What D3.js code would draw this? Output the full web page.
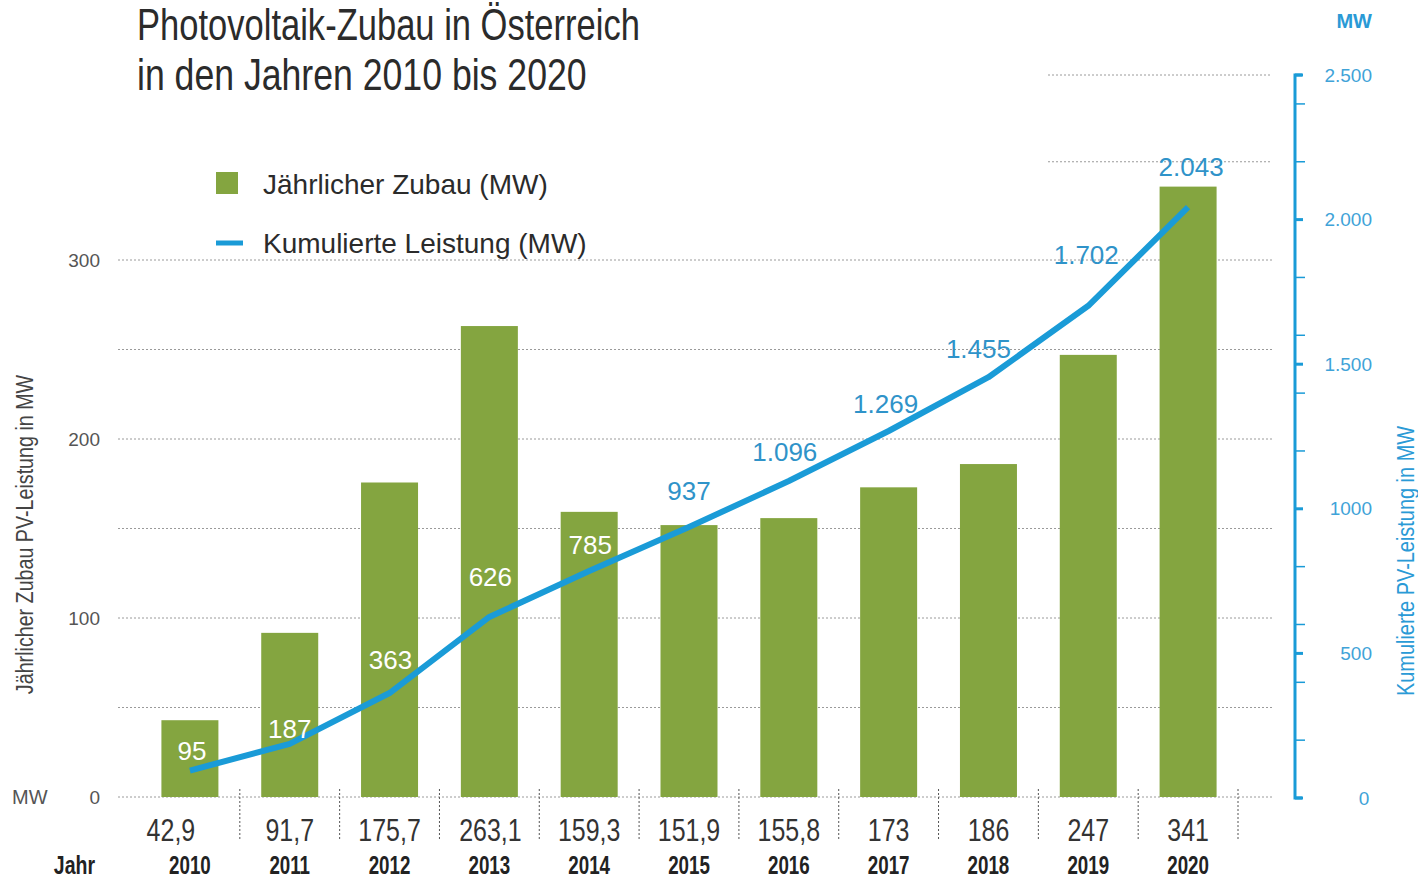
<!DOCTYPE html>
<html>
<head>
<meta charset="utf-8">
<script src="https://cdn.jsdelivr.net/npm/d3@7"></script>
<style>
  body { margin: 0; background: #fff; }
  svg { display: block; }
  text { font-family: "Liberation Sans", Arial, Helvetica, sans-serif; }
</style>
</head>
<body>
<div id="chart"></div>
<script>
// Data
const years = ['2010', '2011', '2012', '2013', '2014', '2015', '2016', '2017', '2018', '2019', '2020'];
const annualAdded = [42.9, 91.7, 175.7, 263.1, 159.3, 151.9, 155.8, 173, 186, 247, 341];
const annualLabels = ['42,9', '91,7', '175,7', '263,1', '159,3', '151,9', '155,8', '173', '186', '247', '341'];
const cumulative = [95, 187, 363, 626, 785, 937, 1096, 1269, 1455, 1702, 2043];
const cumulativeLabels = ['95', '187', '363', '626', '785', '937', '1.096', '1.269', '1.455', '1.702', '2.043'];
const leftTicks = [0, 100, 200, 300];
const leftGrid = [0, 50, 100, 150, 200, 250, 300];
const rightTicks = [0, 500, 1000, 1500, 2000, 2500];
const rightTickLabels = ['0', '500', '1000', '1.500', '2.000', '2.500'];
const rightMinor = [200, 400, 600, 800, 1200, 1400, 1600, 1800, 2200, 2400];
const rightGrid = [2200, 2500];

const width = 1418, height = 879;
const green = '#84a540';
const blue = '#1a9bd7';
const labelBlue = '#2f93c9';

// label nudges (px) so labels sit where the original places them
const labelNudge = [[2, -20], [0, -15], [1, -33], [1, -40], [1, -26], [0, -36], [-4, -29], [-3, -27], [-10, -28], [-2, -51], [3, -40]];
const valueNudge = [-19, 0, 0, 1, 0, 0, 0, 0, 0, 0, 0];

const svg = d3.select('#chart').append('svg')
    .attr('width', width)
    .attr('height', height);

// condensed look: squeeze regular text horizontally
function narrow(sel, x, y, txt, size, opts = {}) {
    const sx = opts.sx || 0.78;
    const rot = opts.rotate ? ' rotate(-90)' : '';
    return sel.append('text')
        .attr('transform', `translate(${x},${y})${rot} scale(${sx},1)`)
        .attr('text-anchor', opts.anchor || 'start')
        .attr('font-size', size)
        .attr('font-weight', opts.bold ? 'bold' : 'normal')
        .attr('fill', opts.fill || '#333')
        .text(txt);
}

// Scales
const x = d3.scaleBand()
    .domain(years)
    .range([140, 1238])
    .paddingInner(0.429)
    .paddingOuter(0.2145);

const yLeft = d3.scaleLinear().domain([0, 300]).range([797, 260]);
const yRight = d3.scaleLinear().domain([0, 2500]).range([798, 75]);
const cx = d => x(d) + x.bandwidth() / 2;

// Title
narrow(svg, 137, 40, 'Photovoltaik-Zubau in Österreich', 44, { sx: 0.785, fill: '#2b2b2b' });
narrow(svg, 137, 90, 'in den Jahren 2010 bis 2020', 44, { sx: 0.81, fill: '#2b2b2b' });

// Gridlines
svg.append('g')
    .selectAll('line')
    .data(leftGrid)
    .join('line')
    .attr('x1', 118)
    .attr('x2', 1273)
    .attr('y1', d => yLeft(d))
    .attr('y2', d => yLeft(d))
    .attr('stroke', '#9a9a9a')
    .attr('stroke-width', 1)
    .attr('stroke-dasharray', '2,2');

svg.append('g')
    .selectAll('line')
    .data(rightGrid)
    .join('line')
    .attr('x1', 1048)
    .attr('x2', 1270)
    .attr('y1', d => yRight(d))
    .attr('y2', d => yRight(d))
    .attr('stroke', '#9a9a9a')
    .attr('stroke-width', 1)
    .attr('stroke-dasharray', '2,2');

// Bars
svg.append('g')
    .selectAll('rect')
    .data(annualAdded)
    .join('rect')
    .attr('x', (d, i) => x(years[i]))
    .attr('y', d => yLeft(d))
    .attr('width', x.bandwidth())
    .attr('height', d => yLeft(0) - yLeft(d))
    .attr('fill', green);

// Cumulative line
const line = d3.line()
    .x((d, i) => cx(years[i]))
    .y(d => yRight(d));

svg.append('path')
    .datum(cumulative)
    .attr('d', line)
    .attr('fill', 'none')
    .attr('stroke', blue)
    .attr('stroke-width', 6)
    .attr('stroke-linejoin', 'round');

// Cumulative labels (white inside bars, blue above)
svg.append('g')
    .selectAll('text')
    .data(cumulative)
    .join('text')
    .attr('x', (d, i) => cx(years[i]) + labelNudge[i][0])
    .attr('y', (d, i) => yRight(d) + labelNudge[i][1])
    .attr('dy', '0.35em')
    .attr('text-anchor', 'middle')
    .attr('font-size', 26)
    .attr('fill', (d, i) => i < 5 ? '#ffffff' : labelBlue)
    .text((d, i) => cumulativeLabels[i]);

// Vertical separators under the axis
svg.append('g')
    .selectAll('line')
    .data(years)
    .join('line')
    .attr('x1', d => x(d) + x.step() * (1 - x.paddingInner() / 2))
    .attr('x2', d => x(d) + x.step() * (1 - x.paddingInner() / 2))
    .attr('y1', 789)
    .attr('y2', 841)
    .attr('stroke', '#555')
    .attr('stroke-width', 1)
    .attr('stroke-dasharray', '2,2');

// Annual values and years under the bars
const bottom = svg.append('g');
years.forEach((yr, i) => {
    narrow(bottom, cx(yr) + valueNudge[i], 841, annualLabels[i], 32, { anchor: 'middle', fill: '#333' });
    narrow(bottom, cx(yr), 874, yr, 25, { anchor: 'middle', bold: true, sx: 0.75, fill: '#222' });
});
narrow(svg, 95, 874, 'Jahr', 25, { anchor: 'end', bold: true, sx: 0.78, fill: '#222' });

// Left axis labels
svg.append('g')
    .selectAll('text')
    .data(leftTicks)
    .join('text')
    .attr('x', 100)
    .attr('y', d => yLeft(d))
    .attr('dy', '0.35em')
    .attr('text-anchor', 'end')
    .attr('font-size', 19)
    .attr('fill', '#555')
    .text(d => d);

svg.append('text')
    .attr('x', 12)
    .attr('y', yLeft(0))
    .attr('dy', '0.35em')
    .attr('font-size', 20)
    .attr('fill', '#555')
    .text('MW');

narrow(svg, 33, (372 + 697) / 2, 'Jährlicher Zubau PV-Leistung in MW', 24,
    { rotate: true, anchor: 'middle', sx: 0.82, fill: '#444' });

// Right axis
const axisX = 1295;
const rAxis = svg.append('g');

rAxis.append('path')
    .attr('d', `M${axisX + 7},${yRight(2500)}H${axisX}V${yRight(0)}H${axisX + 7}`)
    .attr('fill', 'none')
    .attr('stroke', blue)
    .attr('stroke-width', 3);

rAxis.selectAll('line.minor')
    .data(rightMinor)
    .join('line')
    .attr('class', 'minor')
    .attr('x1', axisX)
    .attr('x2', axisX + 10)
    .attr('y1', d => yRight(d))
    .attr('y2', d => yRight(d))
    .attr('stroke', blue)
    .attr('stroke-width', 1.5);

rAxis.selectAll('line.major')
    .data(rightTicks)
    .join('line')
    .attr('class', 'major')
    .attr('x1', axisX)
    .attr('x2', axisX + 8)
    .attr('y1', d => yRight(d))
    .attr('y2', d => yRight(d))
    .attr('stroke', blue)
    .attr('stroke-width', 3);

rAxis.selectAll('text')
    .data(rightTicks)
    .join('text')
    .attr('x', (d, i) => i === 0 ? 1364 : 1372)
    .attr('y', d => yRight(d))
    .attr('dy', '0.35em')
    .attr('text-anchor', (d, i) => i === 0 ? 'middle' : 'end')
    .attr('font-size', 19)
    .attr('fill', '#3fa3d8')
    .text((d, i) => rightTickLabels[i]);

svg.append('text')
    .attr('x', 1372)
    .attr('y', 28)
    .attr('text-anchor', 'end')
    .attr('font-size', 20)
    .attr('font-weight', 'bold')
    .attr('fill', '#2a9ad6')
    .text('MW');

narrow(svg, 1414, (425 + 697) / 2, 'Kumulierte PV-Leistung in MW', 24,
    { rotate: true, anchor: 'middle', sx: 0.83, fill: '#2a9ad6' });

// Legend
const legend = svg.append('g');
legend.append('rect')
    .attr('x', 216)
    .attr('y', 172)
    .attr('width', 22)
    .attr('height', 22)
    .attr('fill', green);
legend.append('text')
    .attr('x', 263)
    .attr('y', 194)
    .attr('font-size', 28)
    .attr('fill', '#2b2b2b')
    .text('Jährlicher Zubau (MW)');
legend.append('line')
    .attr('x1', 216)
    .attr('x2', 243)
    .attr('y1', 243)
    .attr('y2', 243)
    .attr('stroke', blue)
    .attr('stroke-width', 5);
legend.append('text')
    .attr('x', 263)
    .attr('y', 253)
    .attr('font-size', 28)
    .attr('fill', '#2b2b2b')
    .text('Kumulierte Leistung (MW)');
</script>
</body>
</html>
